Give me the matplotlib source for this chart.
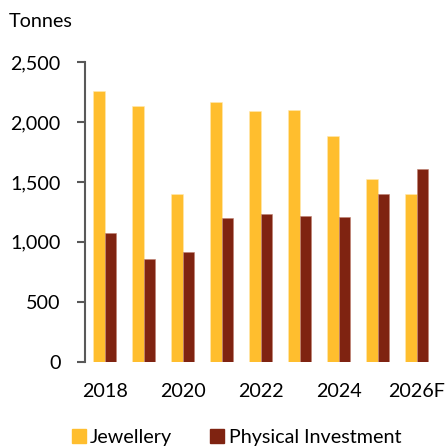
import matplotlib
matplotlib.use("Agg")
import matplotlib.pyplot as plt
import numpy as np
from matplotlib.patches import Patch

years = ["2018", "2019", "2020", "2021", "2022", "2023", "2024", "2025", "2026F"]
jewellery = [2255, 2133, 1400, 2167, 2089, 2100, 1883, 1525, 1400]
physical = [1072, 853, 911, 1195, 1233, 1217, 1206, 1400, 1611]
yticks = [0, 500, 1000, 1500, 2000, 2500]

c_j = "#FFBE2E"
c_p = "#7F2311"

plt.rcParams['font.family'] = ['Lato', 'DejaVu Sans']

fig = plt.figure(figsize=(4.45, 4.46), dpi=100)
ax = fig.add_axes([85/445, 1-361.7/446, (436-85)/445, (361.7-62)/446])

x = np.arange(len(years))
w = 0.29
ax.bar(x - w/2, jewellery, w, color=c_j, edgecolor="#FFE9B0", linewidth=0.4)
ax.bar(x + w/2, physical, w, color=c_p, edgecolor="#C08070", linewidth=0.4)

ax.set_xlim(-0.505, len(years) - 0.5)
ax.set_ylim(0, 2500)
ax.set_yticks(yticks)
ax.set_yticklabels([f"{v:,}" for v in yticks], fontsize=14.2)
ax.set_xticks(x[::2])
ax.set_xticklabels(years[::2], fontsize=14.2)
ax.tick_params(axis='x', length=0, pad=15)
ax.tick_params(axis='y', length=6, width=1.5, color="#595959", pad=11.5)

for s in ["top", "right", "bottom"]:
    ax.spines[s].set_visible(False)
ax.spines["left"].set_color("#595959")
ax.spines["left"].set_linewidth(1.5)

fig.text(9/445, 1-27/446, "Tonnes", fontsize=14.2, ha="left", va="baseline")

handles = [Patch(color=c_j, label="Jewellery"), Patch(color=c_p, label="Physical Investment")]
fig.legend(handles=handles, loc="lower left", bbox_to_anchor=(54/445, -0.04), ncol=2,
           frameon=False, fontsize=14.2, handlelength=0.7, handleheight=0.7,
           handletextpad=0.22, columnspacing=1.95)

fig.savefig("out.png", dpi=100)
